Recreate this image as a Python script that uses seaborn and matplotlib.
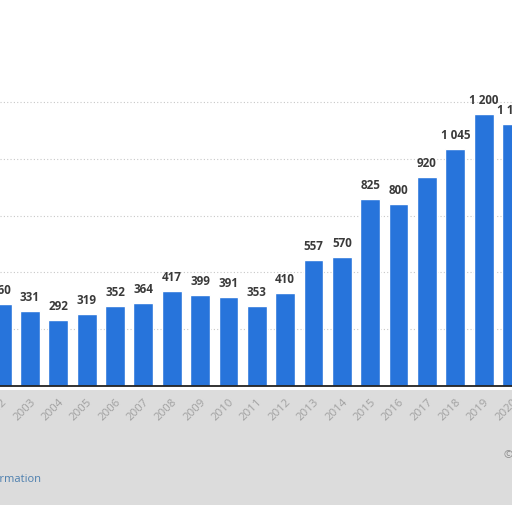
import matplotlib
matplotlib.use("Agg")
import matplotlib.pyplot as plt
import pandas as pd
import seaborn as sns

sns.set_style("white")
plt.rcParams['font.family'] = ['Open Sans', 'DejaVu Sans']

# values (2002 and 2020 are cut by the frame)
years = ["2002", "2003", "2004", "2005", "2006", "2007", "2008", "2009", "2010",
         "2011", "2012", "2013", "2014", "2015", "2016", "2017", "2018", "2019", "2020"]
values = [360, 331, 292, 319, 352, 364, 417, 399, 391,
          353, 410, 557, 570, 825, 800, 920, 1045, 1200, 1154]
grid_levels = [250, 500, 750, 1000, 1250]

df = pd.DataFrame({"year": years, "value": values})

fig = plt.figure(figsize=(5.12, 5.12), dpi=100)
ax = fig.add_axes([0, 0, 1, 1])

# grey band under the axis, as in the screenshot
ax.axhspan(-524, -16, color="#dcdcdc", lw=0, zorder=0)

for g in grid_levels:
    ax.axhline(g, color="#c8c8c8", lw=0.8, ls=(0, (1, 2)), zorder=0)

sns.barplot(data=df, x="year", y="value", order=years, color="#2774db",
            saturation=1, width=0.7, ax=ax, zorder=2)

labels = [f"{v:,}".replace(",", " ") for v in values]
ax.bar_label(ax.containers[0], labels=labels, padding=5, fontsize=8.4,
             fontweight="bold", color="#3a3a3a")

ax.axhline(0, color="#222222", lw=1.3, zorder=3)

# right limit sits on the 2020 tick so its label is still drawn
ax.set_xlim(-0.056, 18.0)
ax.set_ylim(-555, 1700)
ax.set_xlabel("")
ax.set_ylabel("")
ax.set_yticks([])
for s in ax.spines.values():
    s.set_visible(False)
# put the x tick labels right under the zero line
ax.spines["bottom"].set_position(("data", 0))

ax.tick_params(axis="x", length=0, pad=8, labelsize=8.2, labelcolor="#a0a0a0")
for t in ax.get_xticklabels():
    t.set_rotation(45)
    t.set_ha("right")
    t.set_va("top")
    t.set_rotation_mode("anchor")

fig.text(41 / 512, 1 - 479 / 512, "Additional Information", ha="right", va="center",
         fontsize=8, color="#4d7fae")
fig.text(504 / 512, 1 - 456 / 512, "© Statista 2021", ha="left", va="center",
         fontsize=8, color="#8a8a8a")

fig.savefig("out.png", dpi=100)
